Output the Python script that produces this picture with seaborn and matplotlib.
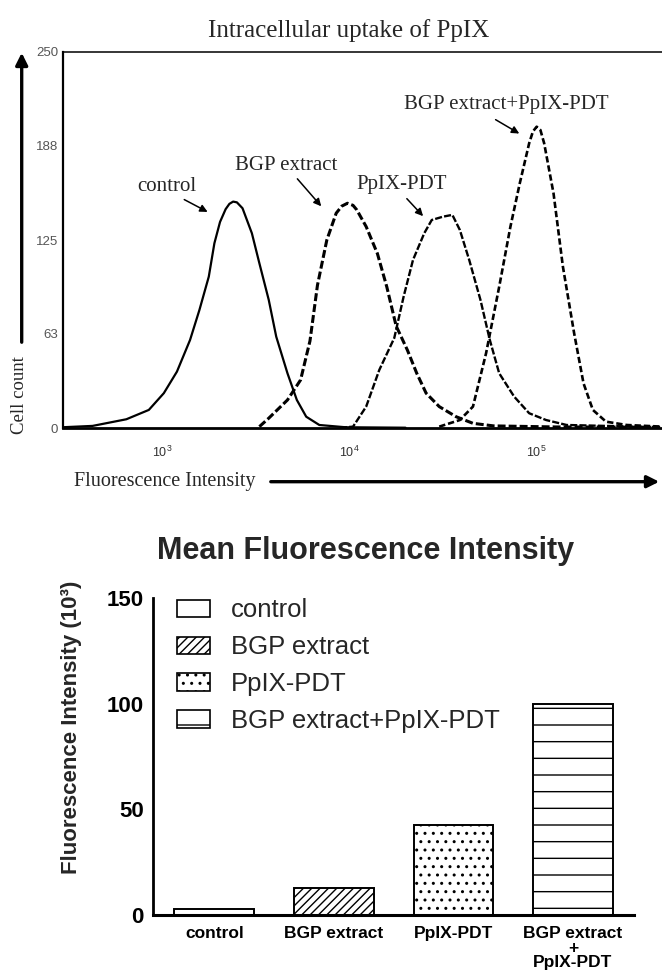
import numpy as np
import matplotlib
matplotlib.use("Agg")
import matplotlib.pyplot as plt
import matplotlib.ticker as mticker
from matplotlib.patches import Patch
import seaborn as sns

# =====================================
# Data
# =====================================

# flow cytometry histograms (log10 intensity, cell count)
control_log = [2.47, 2.63, 2.81, 2.93, 3.01, 3.08, 3.15, 3.20, 3.25, 3.28, 3.31, 3.34,
               3.36, 3.38, 3.40, 3.43, 3.48, 3.52, 3.57, 3.61, 3.67, 3.72, 3.77, 3.84,
               3.98, 4.30]
control_count = [0.8, 1.7, 6.1, 12.3, 23.4, 37.7, 58.7, 78.6, 100.7, 122.9, 137.0, 145.5,
                 149.0, 150.5, 150.0, 146.1, 129.5, 109.6, 85.3, 60.9, 36.6, 18.9, 7.8, 2.3,
                 0.8, 0.5]

bgp_log = [3.52, 3.57, 3.67, 3.74, 3.79, 3.83, 3.88, 3.93, 3.96, 3.99, 4.02, 4.04, 4.09,
           4.15, 4.20, 4.25, 4.31, 4.36, 4.41, 4.48, 4.57, 4.66, 4.77, 5.10, 5.67]
bgp_count = [1.2, 6.8, 18.9, 32.2, 58.0, 95.0, 125.0, 142.8, 147.5, 149.4, 148.0, 145.0,
             133.9, 116.0, 94.0, 68.0, 52.0, 36.6, 23.4, 14.5, 7.8, 3.4, 1.7, 1.0, 0.8]

ppix_log = [3.95, 4.02, 4.09, 4.16, 4.24, 4.29, 4.34, 4.40, 4.44, 4.50, 4.55, 4.59,
            4.64, 4.70, 4.75, 4.80, 4.88, 4.96, 5.05, 5.16, 5.67]
ppix_count = [0.5, 1.2, 14.5, 38.8, 60.0, 87.5, 111.8, 129.5, 138.3, 140.5, 141.7, 131.7,
              111.8, 85.3, 58.7, 36.6, 21.1, 10.1, 5.6, 2.3, 0.8]

combo_log = [4.48, 4.59, 4.66, 4.73, 4.80, 4.86, 4.91, 4.96, 4.98, 5.00, 5.02, 5.04,
             5.09, 5.14, 5.20, 5.25, 5.30, 5.37, 5.48, 5.67]
combo_count = [1.2, 5.6, 14.5, 49.9, 94.0, 133.9, 162.7, 189.2, 197.0, 200.2, 198.0, 189.2,
               156.0, 107.4, 63.2, 30.0, 12.3, 4.5, 2.3, 1.2]

count_ticks = [0, 63, 125, 188, 250]

# mean fluorescence intensity (x10^3)
groups = ["control", "BGP extract", "PpIX-PDT", "BGP extract+PpIX-PDT"]
group_ticklabels = ["control", "BGP extract", "PpIX-PDT", "BGP extract\n+\nPpIX-PDT"]
mfi = [2.7, 12.9, 42.6, 100.0]
hatches = ["", "////", "..", "-"]

# =====================================
# Style
# =====================================

sns.set_style("white")
plt.rcParams["font.family"] = ["Liberation Sans", "DejaVu Sans"]
plt.rcParams["mathtext.fontset"] = "stix"
plt.rcParams["hatch.linewidth"] = 1.0
serif = ["Liberation Serif", "DejaVu Serif"]

fig = plt.figure(figsize=(6.62, 9.72), dpi=100)

# =====================================
# Top panel: histograms
# =====================================

ax1 = fig.add_axes([0.0952, 0.5592, 0.9048, 0.3877])

curves = [
    (control_log, control_count, "-", 1.6),
    (bgp_log, bgp_count, (0, (2.6, 1.0)), 2.2),
    (ppix_log, ppix_count, (0, (3.0, 0.9)), 1.7),
    (combo_log, combo_count, (0, (2.4, 1.1)), 1.9),
]
for xs, ys, ls, lw in curves:
    sns.lineplot(x=10 ** np.array(xs), y=ys, ax=ax1, color="black",
                 linestyle=ls, linewidth=lw)

ax1.set_xscale("log")
ax1.set_xlim(10 ** 2.472, 10 ** 5.669)
ax1.set_ylim(0, 250)
ax1.set_yticks(count_ticks)
ax1.set_yticklabels([str(t) for t in count_ticks])
ax1.xaxis.set_major_locator(mticker.LogLocator(base=10, numticks=10))
ax1.xaxis.set_major_formatter(mticker.LogFormatterMathtext())
ax1.xaxis.set_minor_locator(mticker.LogLocator(base=10, subs=np.arange(2, 10), numticks=10))
ax1.xaxis.set_minor_formatter(mticker.NullFormatter())
ax1.tick_params(axis="y", direction="out", length=2.5, width=0.8, colors="#555555",
                labelsize=9.5, pad=1)
ax1.tick_params(axis="x", which="major", direction="out", length=3, width=0.8,
                colors="#333333", labelsize=9, pad=9)
ax1.tick_params(axis="x", which="minor", direction="out", length=2, width=0.6, colors="#555555")
ax1.set_xlabel("")
ax1.set_ylabel("")
ax1.spines["right"].set_visible(False)
ax1.spines["top"].set_linewidth(1.1)
ax1.spines["left"].set_linewidth(1.6)
ax1.spines["bottom"].set_linewidth(2.0)
for s in ax1.spines.values():
    s.set_color("black")

fig.text(0.526, 1 - 31 / 972, "Intracellular uptake of PpIX", family=serif,
         fontsize=18, ha="center", va="center")

# curve labels with arrows
labels = [
    ("control", (3.026, 160.4), (3.106, 152.7), (3.257, 142.8)),
    ("BGP extract", (3.661, 174.4), (3.713, 167.0), (3.860, 146.0)),
    ("PpIX-PDT", (4.281, 161.6), (4.297, 153.8), (4.404, 139.5)),
    ("BGP extract+PpIX-PDT", (4.839, 214.6), (4.768, 205.8), (4.920, 194.7)),
]
for text, pos, tail, tip in labels:
    ax1.text(10 ** pos[0], pos[1], text, family=serif, fontsize=15,
             ha="center", va="center")
    ax1.annotate("", xy=(10 ** tip[0], tip[1]), xytext=(10 ** tail[0], tail[1]),
                 arrowprops=dict(arrowstyle="-|>", color="black", lw=1.1,
                                 mutation_scale=11))

# outside axis labels with long arrows
fig.text(19 / 662, 1 - 395 / 972, "Cell count", family=serif, fontsize=13.5,
         rotation=90, ha="center", va="center")
fig.text(74 / 662, 1 - 481 / 972, "Fluorescence Intensity", family=serif,
         fontsize=14.5, ha="left", va="center")
ax1.annotate("", xy=(21.7 / 662, 1 - 50 / 972), xytext=(21.7 / 662, 1 - 345 / 972),
             xycoords="figure fraction", textcoords="figure fraction",
             arrowprops=dict(arrowstyle="-|>", color="black", lw=2.4, mutation_scale=18))
ax1.annotate("", xy=(662 / 662, 1 - 481.7 / 972), xytext=(268 / 662, 1 - 481.7 / 972),
             xycoords="figure fraction", textcoords="figure fraction",
             arrowprops=dict(arrowstyle="-|>", color="black", lw=2.4, mutation_scale=18))

# =====================================
# Bottom panel: mean fluorescence intensity
# =====================================

ax2 = fig.add_axes([0.2316, 0.0586, 0.7261, 0.3258])

sns.barplot(x=groups, y=mfi, ax=ax2, color="white", saturation=1,
            edgecolor="black", linewidth=1.4, width=0.666)
for patch, h in zip(ax2.patches, hatches):
    patch.set_hatch(h)

ax2.set_ylim(0, 150)
ax2.set_xlim(-0.51, 3.51)
ax2.set_yticks([0, 50, 100, 150])
ax2.set_xticks(range(len(groups)))
ax2.set_xticklabels(group_ticklabels, fontweight="bold", fontsize=12.5, linespacing=0.97)
for lab in ax2.get_yticklabels():
    lab.set_fontweight("bold")
ax2.tick_params(axis="y", direction="out", length=5, width=1.6, labelsize=16, pad=2,
                colors="black")
ax2.tick_params(axis="x", direction="out", length=6, width=2.0, pad=2, colors="black")
ax2.set_xlabel("")
ax2.set_ylabel("")
sns.despine(ax=ax2)
ax2.spines["left"].set_linewidth(2.0)
ax2.spines["bottom"].set_linewidth(2.2)
ax2.spines["left"].set_color("black")
ax2.spines["bottom"].set_color("black")

fig.text(0.552, 1 - 551 / 972, "Mean Fluorescence Intensity", fontsize=22,
         fontweight="bold", ha="center", va="center")
fig.text(72 / 662, 1 - 727 / 972, "Fluorescence Intensity (10³)", fontsize=16,
         fontweight="bold", rotation=90, ha="center", va="center")

handles = [Patch(facecolor="white", edgecolor="black", hatch=h, linewidth=1.2)
           for h in hatches]
ax2.legend(handles, groups, loc="upper left", bbox_to_anchor=(0.05, 1.0),
           frameon=False, fontsize=18.5, handlelength=1.28, handleheight=0.66,
           handletextpad=0.8, labelspacing=0.5, borderaxespad=0, borderpad=0)

fig.savefig("out.png", dpi=100)
